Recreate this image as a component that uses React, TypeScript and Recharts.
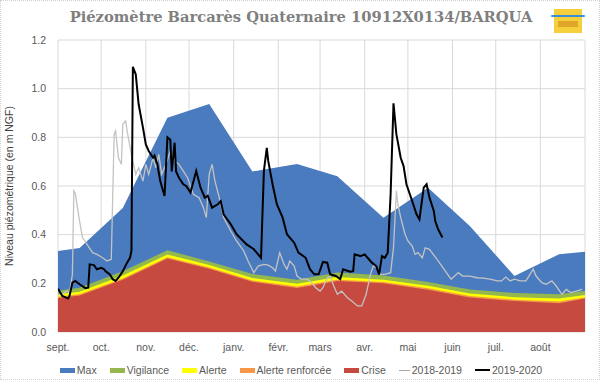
import React from 'react';
import { ComposedChart, Area, Line, XAxis, YAxis, CartesianGrid } from 'recharts';

// jours depuis le 1er septembre 2019
const monthStarts = [0, 30, 61, 91, 122, 153, 182, 213, 243, 274, 304, 335, 366];
const monthLabels = ['sept.', 'oct.', 'nov.', 'déc.', 'janv.', 'févr.', 'mars', 'avr.', 'mai', 'juin', 'juil.', 'août', ''];
const yTicks = [0, 0.2, 0.4, 0.6, 0.8, 1.0, 1.2];

// seuils (m NGF)
const seuilDays = [0, 15, 45, 76, 105, 135, 166, 194, 226, 257, 286, 317, 348, 366];
const maxLevel = [0.333, 0.345, 0.51, 0.88, 0.937, 0.66, 0.69, 0.64, 0.47, 0.593, 0.436, 0.23, 0.32, 0.33];
const vigilance = [0.17, 0.182, 0.25, 0.336, 0.29, 0.238, 0.215, 0.245, 0.232, 0.205, 0.175, 0.16, 0.155, 0.168];
const alerte = [0.155, 0.165, 0.232, 0.318, 0.275, 0.222, 0.198, 0.226, 0.215, 0.19, 0.158, 0.143, 0.138, 0.152];
const alerteRenforcee = [0.145, 0.155, 0.22, 0.307, 0.265, 0.212, 0.187, 0.215, 0.205, 0.18, 0.148, 0.133, 0.125, 0.142];
const crise = [0.14, 0.15, 0.215, 0.302, 0.26, 0.206, 0.181, 0.21, 0.2, 0.174, 0.142, 0.127, 0.118, 0.138];

// chronique 2018-2019
const days1819 = [0, 3, 6, 8, 10, 11, 12, 15, 17, 21, 24, 27, 31, 34, 37, 39, 40, 42, 44, 45, 47, 48, 51, 54, 56, 59, 61, 63, 66, 68, 70, 72, 75, 78, 81, 84, 87, 90, 94, 98, 101, 103, 105, 107, 109, 112, 115, 120, 124, 129, 132, 136, 139, 143, 146, 149, 151, 154, 157, 159, 161, 164, 166, 169, 173, 175, 179, 182, 184, 187, 189, 191, 194, 197, 201, 204, 208, 211, 214, 217, 219, 221, 224, 227, 231, 233, 235, 236, 238, 241, 243, 246, 248, 250, 253, 255, 258, 264, 269, 273, 278, 281, 286, 291, 295, 300, 305, 308, 311, 314, 317, 321, 325, 330, 332, 336, 339, 343, 346, 350, 353, 356, 360, 364];
const level1819 = [0.155, 0.155, 0.168, 0.162, 0.237, 0.58, 0.57, 0.456, 0.388, 0.353, 0.326, 0.319, 0.305, 0.292, 0.299, 0.813, 0.826, 0.716, 0.689, 0.854, 0.867, 0.826, 0.73, 0.648, 0.675, 0.62, 0.689, 0.648, 0.716, 0.675, 0.73, 0.648, 0.689, 0.744, 0.703, 0.689, 0.662, 0.634, 0.566, 0.552, 0.511, 0.47, 0.648, 0.689, 0.62, 0.552, 0.47, 0.415, 0.374, 0.333, 0.292, 0.244, 0.271, 0.278, 0.275, 0.264, 0.25, 0.326, 0.278, 0.258, 0.292, 0.271, 0.23, 0.217, 0.217, 0.21, 0.182, 0.168, 0.182, 0.223, 0.23, 0.196, 0.155, 0.168, 0.141, 0.127, 0.107, 0.107, 0.155, 0.237, 0.271, 0.264, 0.237, 0.237, 0.244, 0.346, 0.58, 0.525, 0.47, 0.402, 0.374, 0.353, 0.319, 0.326, 0.305, 0.346, 0.34, 0.292, 0.25, 0.217, 0.244, 0.23, 0.23, 0.223, 0.221, 0.217, 0.21, 0.21, 0.226, 0.21, 0.217, 0.21, 0.21, 0.258, 0.23, 0.203, 0.196, 0.21, 0.189, 0.155, 0.175, 0.162, 0.168, 0.175];

// chronique 2019-2020
const days1920 = [0, 3, 7, 8, 10, 12, 15, 19, 21, 22, 25, 27, 30, 32, 33, 36, 38, 40, 42, 45, 48, 50, 51, 52, 54, 56, 59, 61, 63, 66, 67, 69, 71, 74, 76, 78, 79, 81, 82, 84, 87, 89, 92, 96, 99, 102, 104, 107, 111, 113, 115, 120, 124, 131, 136, 141, 143, 145, 146, 149, 152, 156, 159, 164, 167, 172, 175, 178, 181, 184, 187, 189, 193, 196, 198, 203, 205, 206, 210, 213, 215, 218, 221, 223, 225, 227, 229, 231, 233, 235, 238, 240, 242, 246, 249, 251, 254, 256, 258, 261, 262, 264, 267];
const level1920 = [0.178, 0.148, 0.138, 0.148, 0.203, 0.21, 0.196, 0.18, 0.182, 0.278, 0.275, 0.258, 0.264, 0.258, 0.25, 0.237, 0.217, 0.21, 0.223, 0.25, 0.285, 0.305, 0.333, 1.09, 1.059, 0.936, 0.84, 0.771, 0.744, 0.716, 0.725, 0.689, 0.62, 0.559, 0.8, 0.79, 0.66, 0.778, 0.66, 0.634, 0.607, 0.6, 0.573, 0.662, 0.593, 0.552, 0.56, 0.511, 0.525, 0.538, 0.484, 0.443, 0.402, 0.36, 0.34, 0.305, 0.662, 0.757, 0.703, 0.607, 0.525, 0.47, 0.402, 0.367, 0.326, 0.305, 0.258, 0.237, 0.237, 0.288, 0.285, 0.237, 0.23, 0.217, 0.258, 0.248, 0.25, 0.319, 0.312, 0.319, 0.305, 0.285, 0.271, 0.237, 0.312, 0.305, 0.326, 0.566, 0.94, 0.813, 0.716, 0.682, 0.607, 0.538, 0.484, 0.463, 0.593, 0.607, 0.552, 0.497, 0.456, 0.422, 0.388];

const COLORS = {
    max: '#4a7bbf',
    vigilance: '#94b84e',
    alerte: '#ffff00',
    renforcee: '#f79646',
    crise: '#c64a3f',
    l1819: '#c3c3c3',
    l1920: '#000000',
};

const seuils = seuilDays.map((day, i) => ({
    day,
    max: maxLevel[i],
    vigilance: vigilance[i],
    alerte: alerte[i],
    renforcee: alerteRenforcee[i],
    crise: crise[i],
}));
const serie1819 = days1819.map((day, i) => ({ day, value: level1819[i] }));
const serie1920 = days1920.map((day, i) => ({ day, value: level1920[i] }));

const legendItems = [
    { name: 'Max', color: COLORS.max, kind: 'box' },
    { name: 'Vigilance', color: COLORS.vigilance, kind: 'box' },
    { name: 'Alerte', color: COLORS.alerte, kind: 'box' },
    { name: 'Alerte renforcée', color: COLORS.renforcee, kind: 'box' },
    { name: 'Crise', color: COLORS.crise, kind: 'box' },
    { name: '2018-2019', color: '#a6a6a6', kind: 'thin' },
    { name: '2019-2020', color: COLORS.l1920, kind: 'thick' },
];

const font = '"Liberation Sans", Arial, sans-serif';
const tickStyle = { fontSize: 10.5, fill: '#595959', fontFamily: font };

const monthName = (v: number) => {
    const idx = monthStarts.indexOf(v);
    return idx >= 0 ? monthLabels[idx] : '';
};

const App: React.FC = () => {
    return (
        <div style={{ position: 'absolute', left: 0, top: 0, width: 598, height: 378, background: '#fff', border: '1px dotted #d0d0d0', overflow: 'hidden' }}>
            <div style={{ position: 'absolute', left: 0, width: 600, top: 7, textAlign: 'center', fontFamily: '"DejaVu Serif", serif', fontWeight: 'bold', fontSize: 14.7, color: '#7f7f7f' }}>
                Piézomètre Barcarès Quaternaire 10912X0134/BARQUA
            </div>
            <div style={{ position: 'absolute', left: 553, top: 8, width: 28, height: 24, background: '#f5cf3c' }}>
                <div style={{ position: 'absolute', left: -3, top: 6, width: 34, height: 2, background: '#3a8fd0', borderRadius: 2 }} />
                <div style={{ position: 'absolute', left: 4, top: 12, width: 20, height: 6, background: '#e0a62a' }} />
            </div>
            <ComposedChart width={600} height={380} margin={{ top: 39, right: 16, bottom: 19, left: 0 }}>
                <CartesianGrid stroke="#d9d9d9" strokeWidth={1} />
                <XAxis
                    type="number"
                    dataKey="day"
                    domain={[0, 366]}
                    ticks={monthStarts}
                    tickFormatter={monthName}
                    interval={0}
                    height={30}
                    axisLine={false}
                    tickLine={false}
                    tick={tickStyle}
                    tickMargin={6}
                    allowDataOverflow
                />
                <YAxis
                    type="number"
                    domain={[0, 1.2]}
                    ticks={yTicks}
                    tickFormatter={(v: number) => v.toFixed(1)}
                    width={57}
                    axisLine={false}
                    tickLine={false}
                    tick={tickStyle}
                    tickMargin={6}
                    label={{ value: 'Niveau piézométrique (en m NGF)', angle: -90, position: 'insideLeft', offset: 8, style: { fontSize: 10.5, fill: '#404040', fontFamily: font, textAnchor: 'middle' } }}
                />
                <Area data={seuils} dataKey="max" type="linear" stroke="none" fill={COLORS.max} fillOpacity={1} isAnimationActive={false} />
                <Area data={seuils} dataKey="vigilance" type="linear" stroke="none" fill={COLORS.vigilance} fillOpacity={1} isAnimationActive={false} />
                <Area data={seuils} dataKey="alerte" type="linear" stroke="none" fill={COLORS.alerte} fillOpacity={1} isAnimationActive={false} />
                <Area data={seuils} dataKey="renforcee" type="linear" stroke="none" fill={COLORS.renforcee} fillOpacity={1} isAnimationActive={false} />
                <Area data={seuils} dataKey="crise" type="linear" stroke="none" fill={COLORS.crise} fillOpacity={1} isAnimationActive={false} />
                <Line data={serie1819} dataKey="value" type="linear" stroke={COLORS.l1819} strokeWidth={1.3} dot={false} isAnimationActive={false} />
                <Line data={serie1920} dataKey="value" type="linear" stroke={COLORS.l1920} strokeWidth={2} dot={false} isAnimationActive={false} />
            </ComposedChart>
            <div style={{ position: 'absolute', left: 0, width: 600, top: 362, display: 'flex', justifyContent: 'center', gap: 13, fontFamily: font, fontSize: 10.5, color: '#595959', lineHeight: '14px' }}>
                {legendItems.map(item => (
                    <div key={item.name} style={{ display: 'flex', alignItems: 'center', gap: 2 }}>
                        <span
                            style={{
                                display: 'inline-block',
                                width: item.kind === 'thin' ? 11 : 15,
                                height: item.kind === 'box' ? 5 : item.kind === 'thick' ? 2 : 1,
                                background: item.color,
                            }}
                        />
                        <span>{item.name}</span>
                    </div>
                ))}
            </div>
        </div>
    );
};

export default App;
